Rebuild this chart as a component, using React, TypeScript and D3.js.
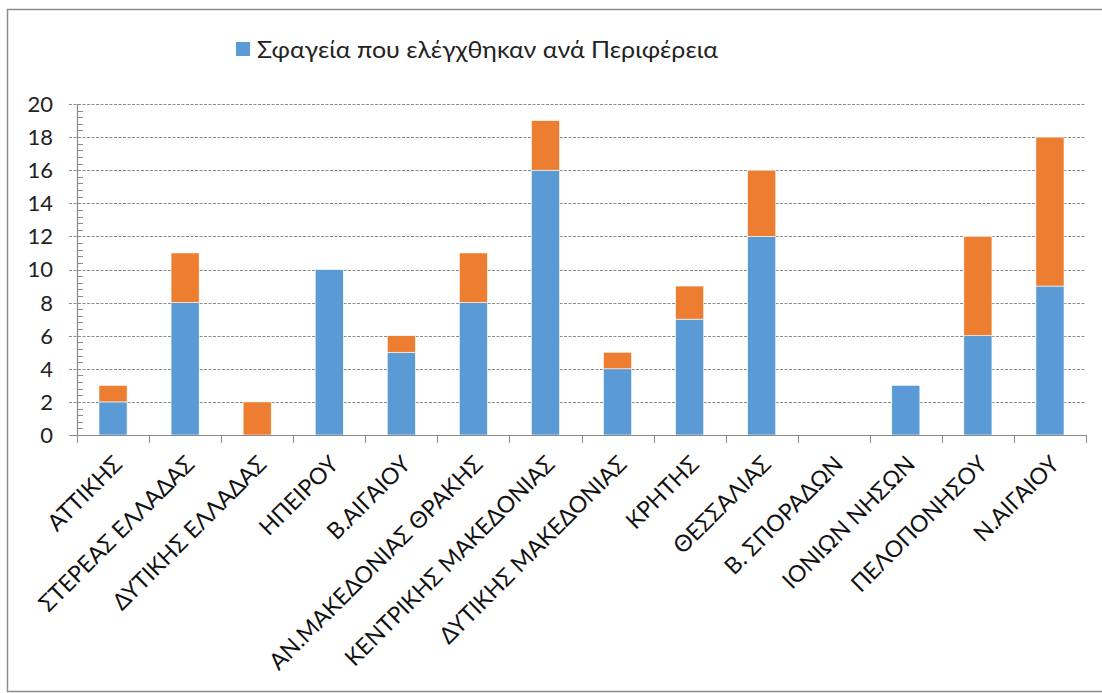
import * as d3 from "d3";
import { useEffect, useRef } from "react";

const regions = [
  "ΑΤΤΙΚΗΣ",
  "ΣΤΕΡΕΑΣ ΕΛΛΑΔΑΣ",
  "ΔΥΤΙΚΗΣ ΕΛΛΑΔΑΣ",
  "ΗΠΕΙΡΟΥ",
  "Β.ΑΙΓΑΙΟΥ",
  "ΑΝ.ΜΑΚΕΔΟΝΙΑΣ ΘΡΑΚΗΣ",
  "ΚΕΝΤΡΙΚΗΣ ΜΑΚΕΔΟΝΙΑΣ",
  "ΔΥΤΙΚΗΣ ΜΑΚΕΔΟΝΙΑΣ",
  "ΚΡΗΤΗΣ",
  "ΘΕΣΣΑΛΙΑΣ",
  "Β. ΣΠΟΡΑΔΩΝ",
  "ΙΟΝΙΩΝ ΝΗΣΩΝ",
  "ΠΕΛΟΠΟΝΗΣΟΥ",
  "Ν.ΑΙΓΑΙΟΥ",
];
const checked = [2, 8, 0, 10, 5, 8, 16, 4, 7, 12, 0, 3, 6, 9];
const other = [1, 3, 2, 0, 1, 3, 3, 1, 2, 4, 0, 0, 6, 9];
const yTicks = [0, 2, 4, 6, 8, 10, 12, 14, 16, 18, 20];
const legendLabel = "Σφαγεία που ελέγχθηκαν ανά Περιφέρεια";

const W = 1102;
const H = 693;
const FONT = "Lato, 'Open Sans', sans-serif";

export default function App() {
  const ref = useRef<SVGSVGElement>(null);

  useEffect(() => {
    if (!ref.current) return;
    const svg = d3.select(ref.current);
    svg.selectAll("*").remove();

    const left = 77;
    const right = 1086;
    const top = 104;
    const bottom = 435;

    // outer frame
    svg
      .append("rect")
      .attr("x", 7.5)
      .attr("y", 9.5)
      .attr("width", 1110)
      .attr("height", 682)
      .attr("fill", "white")
      .attr("stroke", "#8c8c8c")
      .attr("stroke-width", 1.5);

    const x = d3.scaleBand().domain(regions).range([left, right]).paddingInner(0.61).paddingOuter(0.305);
    const band = d3.scaleBand().domain(regions).range([left, right]);
    const y = d3.scaleLinear().domain([0, 20]).range([bottom, top]);

    // gridlines + major ticks
    svg
      .append("g")
      .selectAll("line")
      .data(yTicks.filter((t) => t > 0))
      .join("line")
      .attr("x1", left - 8)
      .attr("x2", right)
      .attr("y1", (d) => Math.round(y(d)) + 0.5)
      .attr("y2", (d) => Math.round(y(d)) + 0.5)
      .attr("stroke", "#8a8a8a")
      .attr("stroke-dasharray", "3,1.5");

    // minor ticks
    const minor = d3.range(0, 20.01, 0.4).filter((v) => Math.abs(v / 2 - Math.round(v / 2)) > 0.01);
    svg
      .append("g")
      .selectAll("line")
      .data(minor)
      .join("line")
      .attr("x1", left)
      .attr("x2", left + 6)
      .attr("y1", (d) => Math.round(y(d)) + 0.5)
      .attr("y2", (d) => Math.round(y(d)) + 0.5)
      .attr("stroke", "#8a8a8a");

    // y tick labels
    svg
      .append("g")
      .selectAll("text")
      .data(yTicks)
      .join("text")
      .attr("x", 53)
      .attr("y", (d) => y(d))
      .attr("dy", "0.36em")
      .attr("text-anchor", "end")
      .attr("font-family", FONT)
      .attr("font-size", 22)
      .attr("fill", "#222")
      .text((d) => d);

    const stacked = d3
      .stack<number>()
      .keys(["checked", "other"])
      .value((i, key) => (key === "checked" ? checked[i] : other[i]))(d3.range(regions.length));
    const colors = ["#5b9bd5", "#ed7d31"];

    stacked.forEach((layer, li) => {
      svg
        .append("g")
        .selectAll("rect")
        .data(layer.filter((d) => d[1] > d[0]))
        .join("rect")
        .attr("x", (d) => x(regions[d.data])!)
        .attr("width", x.bandwidth())
        .attr("y", (d) => y(d[1]))
        .attr("height", (d) => y(d[0]) - y(d[1]))
        .attr("fill", colors[li])
        .attr("stroke", "white")
        .attr("stroke-width", 0.6);
    });

    // axes lines
    svg
      .append("line")
      .attr("x1", left + 0.5)
      .attr("x2", left + 0.5)
      .attr("y1", top)
      .attr("y2", bottom)
      .attr("stroke", "#8a8a8a")
      .attr("stroke-width", 1.2);
    svg
      .append("line")
      .attr("x1", left - 8)
      .attr("x2", right)
      .attr("y1", bottom + 0.5)
      .attr("y2", bottom + 0.5)
      .attr("stroke", "#8a8a8a")
      .attr("stroke-width", 1.2);

    // category ticks
    svg
      .append("g")
      .selectAll("line")
      .data(d3.range(regions.length + 1))
      .join("line")
      .attr("x1", (i) => Math.round(left + i * band.step()) + 0.5)
      .attr("x2", (i) => Math.round(left + i * band.step()) + 0.5)
      .attr("y1", bottom)
      .attr("y2", bottom + 8)
      .attr("stroke", "#8a8a8a");

    // category labels
    svg
      .append("g")
      .selectAll("text")
      .data(regions)
      .join("text")
      .attr(
        "transform",
        (d) => `translate(${band(d)! + band.bandwidth() / 2 + 5},${bottom + 25}) rotate(-45)`
      )
      .attr("text-anchor", "end")
      .attr("dy", "0.35em")
      .attr("font-family", FONT)
      .attr("font-size", 23)
      .attr("fill", "#111")
      .text((d) => d);

    // legend
    const lg = svg.append("g").attr("transform", "translate(236,42)");
    lg.append("rect").attr("width", 14).attr("height", 14).attr("fill", colors[0]);
    lg.append("text")
      .attr("x", 21)
      .attr("y", 16)
      .attr("font-family", FONT)
      .attr("font-size", 23)
      .attr("fill", "#222")
      .attr("textLength", 461)
      .attr("lengthAdjust", "spacingAndGlyphs")
      .text(legendLabel);
  }, []);

  return (
    <div style={{ position: "fixed", left: 0, top: 0 }}>
      <svg ref={ref} width={W} height={H} style={{ display: "block" }} />
    </div>
  );
}
